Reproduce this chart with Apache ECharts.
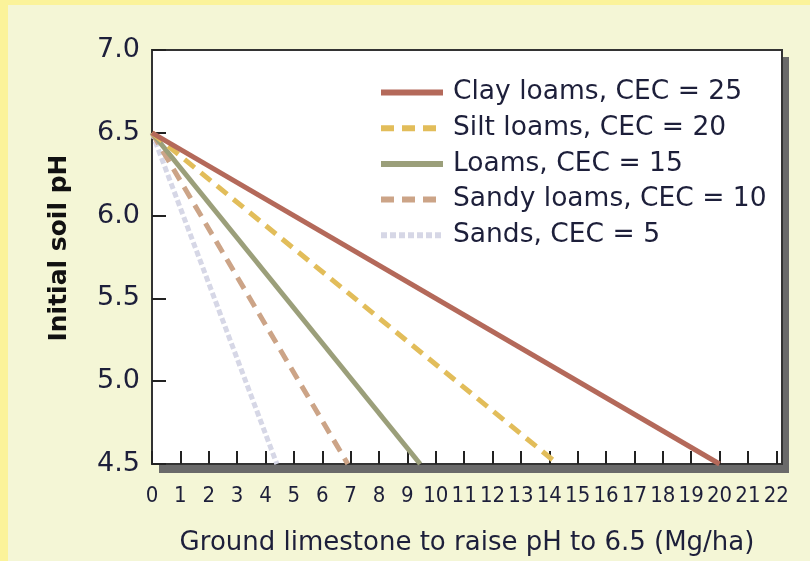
<!DOCTYPE html>
<html>
<head>
<meta charset="utf-8">
<script src="https://cdn.jsdelivr.net/npm/echarts@6/dist/echarts.min.js"></script>
<style>
html,body{margin:0;padding:0;background:#FBF39A;}
#panel{position:absolute;left:8px;top:5px;width:802px;height:556px;background:#F4F6D6;}
#chart{position:absolute;left:0;top:0;width:810px;height:561px;}
</style>
</head>
<body>
<div id="panel"></div>
<div id="chart"></div>
<script>
const seriesNames = ['Clay loams, CEC = 25','Silt loams, CEC = 20','Loams, CEC = 15','Sandy loams, CEC = 10','Sands, CEC = 5'];
const startPoint = [0, 6.5];
const endLimestone = [20, 14.3, 9.45, 6.9, 4.4];
const endPH = 4.5;
const yTicks = [4.5, 5.0, 5.5, 6.0, 6.5, 7.0];
const xTickLabels = ['0','1','2','3','4','5','6','7','8','9','10','11','12','13','14','15','16','17','18','19','20','21','22'];

const colors = ['#B4695A','#E2BD5A','#9B9F7A','#CCA487','#D6D7E6'];
const dashes = ['solid',[13,8],'solid',[13,8],[6,3]];

const chart = echarts.init(document.getElementById('chart'), null, {renderer:'canvas'});
const font = '"DejaVu Sans", "Open Sans", sans-serif';
const narrow = '"DejaVu Sans Condensed", "Open Sans", sans-serif';
const txt = '#1d1f3a';

const series = seriesNames.map((n,i)=>({
  name:n, type:'line', symbol:'none', silent:true,
  data:[startPoint,[endLimestone[i], endPH]],
  lineStyle:{color:colors[i], width:5, type:dashes[i], cap:'butt'},
  itemStyle:{color:colors[i]},
  z: 10 - i
}));

const G = {left:152, top:50, right:28, bottom:95};
const W = 810 - G.left - G.right, H = 561 - G.top - G.bottom;

chart.setOption({
  backgroundColor:'transparent',
  animation:false,
  graphic:[{type:'rect', z:-10, silent:true,
            shape:{x:G.left+7, y:G.top+7, width:W, height:H},
            style:{fill:'#6a6a6a'}}],
  grid:{left:G.left, top:G.top, right:G.right, bottom:G.bottom, show:true, backgroundColor:'#ffffff',
        borderColor:'#333333', borderWidth:2},
  legend:{orient:'vertical', left:378, top:79, padding:0, itemWidth:62, itemHeight:12, itemGap:8.7,
          itemStyle:{opacity:0, borderWidth:0},
          lineStyle:{width:6},
          textStyle:{fontFamily:font, fontSize:26.5, color:txt, lineHeight:27, padding:[0,0,0,5]},
          data:seriesNames},
  xAxis:{type:'value', min:0, max:22.2, interval:1,
         name:'Ground limestone to raise pH to 6.5 (Mg/ha)', nameLocation:'middle', nameGap:66,
         nameTextStyle:{fontFamily:font, fontSize:26, color:txt},
         axisLine:{show:true, lineStyle:{color:'#333', width:2}},
         axisTick:{show:true, inside:true, length:13, lineStyle:{color:'#222', width:2}},
         axisLabel:{fontFamily:narrow, fontSize:22, color:txt, margin:21, showMaxLabel:false,
                    formatter:(v)=>{const i=Math.round(v); return (Math.abs(v-i)<1e-6 && xTickLabels[i]!==undefined)?xTickLabels[i]:'';}},
         splitLine:{show:false}},
  yAxis:{type:'value', min:yTicks[0], max:yTicks[yTicks.length-1], interval:0.5,
         name:'Initial soil pH', nameLocation:'middle', nameGap:80,
         nameTextStyle:{fontFamily:font, fontSize:25, fontWeight:'bold', color:'#111', padding:[0,0,0,18]},
         axisLine:{show:true, lineStyle:{color:'#333', width:2}},
         axisTick:{show:true, inside:true, length:14, lineStyle:{color:'#222', width:2}},
         axisLabel:{fontFamily:font, fontSize:27, color:txt, margin:12, formatter:(v)=>v.toFixed(1)},
         splitLine:{show:false}},
  series:series
});
</script>
</body>
</html>
